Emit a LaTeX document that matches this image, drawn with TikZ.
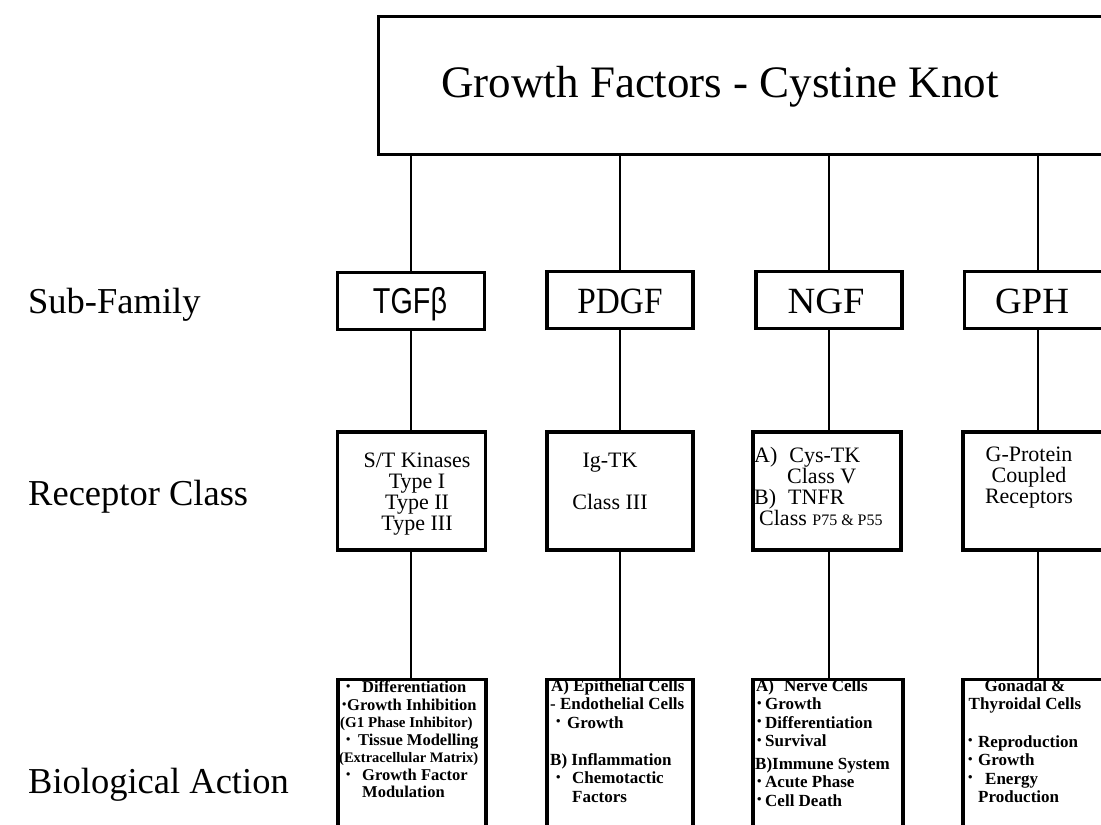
\documentclass[tikz,border=0pt]{standalone}
\usepackage{fontspec}
\setmainfont{Liberation Serif}
\newfontfamily\sansfam{Liberation Sans}
\usepackage{graphicx}
\newcommand{\bul}{\raisebox{0.3ex}{\scalebox{0.75}{\textbullet}}}
\newcommand{\bl}[1]{\makebox[#1pt][l]{\bul}}
\newcommand{\fs}[2]{\fontsize{#1}{#2}\selectfont}
\tikzset{
  box/.style={draw, line width=3.2pt, inner sep=0pt, fill=none},
  conn/.style={line width=2.8pt},
  lbl/.style={anchor=base west, inner sep=0pt, font=\fs{36.5}{40}},
  sftext/.style={anchor=base, inner sep=0pt, font=\fs{37}{40}},
  rctext/.style={anchor=north, inner sep=0pt, align=center, font=\fs{22}{21}},
  batext/.style={anchor=north west, inner sep=0pt, align=left, font=\bfseries\fs{17}{18.5}},
}
\begin{document}
\begin{tikzpicture}[x=1pt,y=-1pt]
\useasboundingbox (0,0) rectangle (1101,825);
\clip (0,0) rectangle (1101,825);
\fill[white] (0,0) rectangle (1101,825);

% top box
\node[box, minimum width=740pt, minimum height=138pt, anchor=north west] (top) at (377,15) {};
\node[anchor=base, inner sep=0pt, font=\fs{45}{50}] (title) at (720,97) {Growth Factors - Cystine Knot};

% row labels
\node[lbl] (lsf) at (28,313) {Sub-Family};
\node[lbl] (lrc) at (28,505) {Receptor Class};
\node[lbl] (lba) at (28,793) {Biological Action};

% sub-family boxes
\node[box, minimum width=147pt, minimum height=57pt] (tgf) at (411,301) {};
\node[box, minimum width=146pt, minimum height=57pt] (pdgf) at (620,300) {};
\node[box, minimum width=146pt, minimum height=57pt] (ngf) at (829,300) {};
\node[box, minimum width=147pt, minimum height=57pt] (gph) at (1038,300) {};
\node[sftext, font=\sansfam\fs{36}{40}] (ttgf) at (410,313) {\scalebox{0.8}[1]{TGFβ}};
\node[sftext] (tpdgf) at (620,313) {\scalebox{0.9}[1]{PDGF}};
\node[sftext] (tngf) at (826,313) {\scalebox{1.04}[1]{NGF}};
\node[sftext] (tgph) at (1032,313) {GPH};

% receptor class boxes
\node[box, minimum width=148pt, minimum height=118pt] (rc1) at (411.5,491) {};
\node[box, minimum width=146pt, minimum height=118pt] (rc2) at (620,491) {};
\node[box, minimum width=148pt, minimum height=118pt] (rc3) at (827,491) {};
\node[box, minimum width=148pt, minimum height=118pt] (rc4) at (1037,491) {};
\node[rctext] (trc1) at (417,453) {S/T Kinases\\Type I\\Type II\\Type III};
\node[rctext] (trc2) at (610,453) {Ig-TK\\[21pt]Class III};
\node[rctext, anchor=north west, align=left] (trc3) at (754,447) {A)\hspace{12pt}Cys-TK\\\hspace*{33pt}Class V\\B)\hspace{12pt}TNFR\\\hspace*{5pt}Class {\fs{16}{16}P75 \& P55}};
\node[rctext] (trc4) at (1029,447) {G-Protein\\Coupled\\Receptors};

% biological action boxes
\node[box, minimum width=148pt, minimum height=170pt, anchor=north] (ba1) at (412,678) {};
\node[box, minimum width=146pt, minimum height=170pt, anchor=north] (ba2) at (620,678) {};
\node[box, minimum width=150pt, minimum height=170pt, anchor=north] (ba3) at (828,678) {};
\node[box, minimum width=148pt, minimum height=170pt, anchor=north] (ba4) at (1037,678) {};

\node[batext, font=\bfseries\fs{16.5}{17.5}] (tba1) at (339,681) {%
\hspace*{7pt}\bl{16}Differentiation\\
\hspace*{3pt}\bl{5}Growth Inhibition\\
\hspace*{1pt}{\fs{15}{17.5}(G1 Phase Inhibitor)}\\
\hspace*{7pt}\bl{12}Tissue Modelling\\
{\fs{14.5}{17.5}(Extracellular Matrix)}\\
\hspace*{7pt}\bl{16}Growth Factor\\
\hspace*{23pt}Modulation};

\node[batext] (tba2) at (550,679) {%
\hspace*{1pt}A) Epithelial Cells\\
- Endothelial Cells\\
\hspace*{6pt}\bl{11}Growth\\[18.5pt]
B) Inflammation\\
\hspace*{6pt}\bl{16}Chemotactic\\
\hspace*{22pt}Factors};

\node[batext] (tba3) at (755,679) {%
\hspace*{1pt}A)\hspace{10pt}Nerve Cells\\
\hspace*{2pt}\bl{8}Growth\\
\hspace*{2pt}\bl{8}Differentiation\\
\hspace*{2pt}\bl{8}Survival\\[4pt]
B)Immune System\\
\hspace*{2pt}\bl{8}Acute Phase\\
\hspace*{2pt}\bl{8}Cell Death};

\node[batext, align=center, anchor=north] (tba4a) at (1025,679) {Gonadal \&\\Thyroidal Cells};
\node[batext] (tba4b) at (968,735) {%
\bl{10}Reproduction\\
\bl{10}Growth\\
\bl{17}Energy\\
\hspace*{10pt}Production};

% connectors
\foreach \s in {tgf,pdgf,ngf,gph}
  \draw[conn] (top.south -| \s.north) -- (\s.north);
\draw[conn] (tgf.south) -- (tgf.south |- rc1.north);
\draw[conn] (pdgf.south) -- (pdgf.south |- rc2.north);
\draw[conn] (ngf.south) -- (ngf.south |- rc3.north);
\draw[conn] (gph.south) -- (gph.south |- rc4.north);
\draw[conn] (tgf.south |- rc1.south) -- (tgf.south |- ba1.north);
\draw[conn] (pdgf.south |- rc2.south) -- (pdgf.south |- ba2.north);
\draw[conn] (ngf.south |- rc3.south) -- (ngf.south |- ba3.north);
\draw[conn] (gph.south |- rc4.south) -- (gph.south |- ba4.north);
\end{tikzpicture}
\end{document}
